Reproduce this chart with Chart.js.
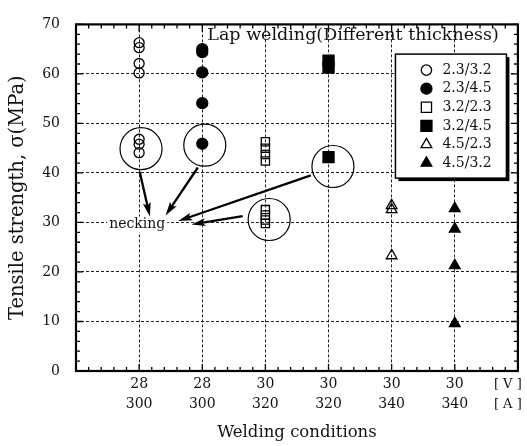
<!DOCTYPE html>
<html><head><meta charset="utf-8">
<script src="https://cdn.jsdelivr.net/npm/chart.js@4.4.0/dist/chart.umd.min.js"></script>
<style>html,body{margin:0;padding:0;background:#fff}#wrap{width:527px;height:446px}</style>
</head><body><div id="wrap"><canvas id="c" width="527" height="446"></canvas></div>
<script>
// ---- data ----
const voltages = ['28','28','30','30','30','30'];
const currents = ['300','300','320','320','340','340'];
const unitLabels = ['[ V ]','[ A ]'];
const seriesNames = ['2.3/3.2','2.3/4.5','3.2/2.3','3.2/4.5','4.5/2.3','4.5/3.2'];
const conditionOf = [1,2,3,4,5,6];
const s1 = [66.3, 65.3, 62.1, 60.2, 46.8, 45.8, 44.1];
const s2 = [65.0, 64.4, 60.3, 54.1, 45.9];
const s3 = [46.3, 45.0, 43.7, 42.4, 32.6, 31.5, 30.5, 29.8];
const s4 = [62.7, 61.3, 43.2];
const s5 = [33.4, 32.6, 23.3];
const s6 = [32.8, 28.7, 21.3, 9.6];
const allSeries = [s1,s2,s3,s4,s5,s6];
const titleText = 'Lap welding(Different thickness)';
const neckingText = 'necking';
// annotation geometry in data units
const neckCircles = [[1.03,44.9],[2.04,45.6],[3.06,30.6],[4.07,41.3]];
const arrows = [[1.01,40.2,1.17,31.2],[1.93,41.1,1.42,31.4],[3.72,39.5,1.62,30.3],[2.64,31.3,1.83,29.6]];

const F = 'DejaVu Serif';
const styles = [
  {pointStyle:'circle', radius:5, fill:false},
  {pointStyle:'circle', radius:5.5, fill:true},
  {pointStyle:'rect', radius:5.8, fill:false},
  {pointStyle:'rect', radius:7.8, fill:true},
  {pointStyle:'triangle', radius:6.2, fill:false},
  {pointStyle:'triangle', radius:6.2, fill:true}
];

const datasets = allSeries.map((arr,i)=>({
  label: seriesNames[i],
  data: arr.map(v=>({x:conditionOf[i], y:v})),
  pointStyle: styles[i].pointStyle,
  pointRadius: styles[i].radius,
  pointBorderWidth: 1.3,
  borderColor:'#000',
  pointBorderColor:'#000',
  pointBackgroundColor: styles[i].fill ? '#000' : 'rgba(0,0,0,0)',
  backgroundColor: styles[i].fill ? '#000' : 'rgba(0,0,0,0)',
  showLine:false
}));

function drawMarker(ctx, style, r, x, y, fill){
  ctx.beginPath();
  if (style==='circle'){ ctx.arc(x,y,r,0,Math.PI*2); }
  else if (style==='rect'){ const s=r*Math.SQRT1_2; ctx.rect(x-s,y-s,2*s,2*s); }
  else { ctx.moveTo(x, y-r); ctx.lineTo(x+r*Math.sin(2*Math.PI/3), y - r*Math.cos(2*Math.PI/3)); ctx.lineTo(x+r*Math.sin(4*Math.PI/3), y - r*Math.cos(4*Math.PI/3)); ctx.closePath(); }
  if (fill){ ctx.fillStyle='#000'; ctx.fill(); }
  ctx.lineWidth=1.3; ctx.strokeStyle='#000'; ctx.stroke();
}

const framePlugin = {
  id:'frame',
  beforeDatasetsDraw(chart){
    const {ctx, chartArea:a, scales:{x,y}} = chart;
    ctx.save();
    ctx.strokeStyle='#000'; ctx.lineWidth=1.3;
    ctx.beginPath();
    for (let k=0;k<=35;k++){
      const px = x.getPixelForValue(k/5);
      const L = k%5===0 ? 7 : 4;
      ctx.moveTo(px,a.bottom); ctx.lineTo(px,a.bottom-L);
      ctx.moveTo(px,a.top); ctx.lineTo(px,a.top+L);
    }
    for (let k=0;k<=35;k++){
      const py = y.getPixelForValue(k*2);
      const L = k%5===0 ? 7 : 4;
      ctx.moveTo(a.left,py); ctx.lineTo(a.left+L,py);
      ctx.moveTo(a.right,py); ctx.lineTo(a.right-L,py);
    }
    ctx.stroke();
    ctx.lineWidth=2.2;
    ctx.strokeRect(a.left,a.top,a.right-a.left,a.bottom-a.top);
    ctx.restore();
  },
  afterDatasetsDraw(chart){
    const {ctx, chartArea:a, scales:{x,y}} = chart;
    ctx.save();
    // circles
    ctx.strokeStyle='#000'; ctx.lineWidth=1.2;
    neckCircles.forEach(([cx,cy])=>{
      ctx.beginPath(); ctx.arc(x.getPixelForValue(cx), y.getPixelForValue(cy), 21, 0, Math.PI*2); ctx.stroke();
    });
    // necking text
    ctx.font = '14px "'+F+'"';
    ctx.textAlign='center'; ctx.textBaseline='middle';
    const nx = x.getPixelForValue(0.97), ny = y.getPixelForValue(29.6);
    const w = ctx.measureText(neckingText).width;
    ctx.fillStyle='#fff'; ctx.fillRect(nx-w/2-2, ny-8, w+4, 16);
    ctx.fillStyle='#111'; ctx.fillText(neckingText, nx, ny);
    // arrows
    arrows.forEach(([x1,y1,x2,y2])=>{
      const p1=[x.getPixelForValue(x1), y.getPixelForValue(y1)];
      const p2=[x.getPixelForValue(x2), y.getPixelForValue(y2)];
      const ang=Math.atan2(p2[1]-p1[1], p2[0]-p1[0]);
      const hl=14, hw=4;
      const bx=p2[0]-hl*Math.cos(ang), by=p2[1]-hl*Math.sin(ang);
      ctx.lineWidth=2.3; ctx.strokeStyle='#000';
      ctx.beginPath(); ctx.moveTo(p1[0],p1[1]); ctx.lineTo(bx+4*Math.cos(ang),by+4*Math.sin(ang)); ctx.stroke();
      ctx.beginPath(); ctx.moveTo(p2[0],p2[1]);
      ctx.lineTo(bx - hw*Math.sin(ang), by + hw*Math.cos(ang));
      ctx.lineTo(bx + 3*Math.cos(ang), by + 3*Math.sin(ang));
      ctx.lineTo(bx + hw*Math.sin(ang), by - hw*Math.cos(ang));
      ctx.closePath(); ctx.fillStyle='#000'; ctx.fill();
    });
    // title inside plot
    ctx.font = '17.5px "'+F+'"';
    ctx.textAlign='left'; ctx.textBaseline='middle'; ctx.fillStyle='#111';
    ctx.fillText(titleText, x.getPixelForValue(2.08), y.getPixelForValue(67.8));
    // legend box
    const lx = x.getPixelForValue(5.06), ly = y.getPixelForValue(64.0);
    const lw = 111, lh = 124;
    ctx.fillStyle='#000'; ctx.fillRect(lx+3, ly+3, lw, lh);
    ctx.fillStyle='#fff'; ctx.fillRect(lx, ly, lw, lh);
    ctx.lineWidth=1.5; ctx.strokeStyle='#000'; ctx.strokeRect(lx, ly, lw, lh);
    const legR = [5.2,5.5,7.2,7.8,6.2,6.2];
    ctx.font='14px "'+F+'"'; ctx.textBaseline='middle'; ctx.textAlign='left';
    seriesNames.forEach((name,i)=>{
      const ry = ly + 16 + i*18.6;
      drawMarker(ctx, styles[i].pointStyle, legR[i], lx+31, ry, styles[i].fill);
      ctx.fillStyle='#111'; ctx.fillText(name, lx+47, ry);
    });
    ctx.restore();
  },
  afterDraw(chart){
    const {ctx, chartArea:a, scales:{x}} = chart;
    ctx.save();
    ctx.font='13px "'+F+'"'; ctx.textAlign='center'; ctx.textBaseline='middle'; ctx.fillStyle='#111';
    const ux = x.getPixelForValue(6.84);
    ctx.fillText(unitLabels[0], ux, a.bottom+14);
    ctx.fillText(unitLabels[1], ux, a.bottom+34);
    ctx.restore();
  }
};

new Chart(document.getElementById('c'), {
  type:'scatter',
  data:{datasets},
  plugins:[framePlugin],
  options:{
    responsive:false, animation:false, devicePixelRatio:1,
    layout:{padding:{left:0,right:7,top:15,bottom:0}},
    plugins:{legend:{display:false}, tooltip:{enabled:false}},
    scales:{
      x:{
        type:'linear', min:0, max:7,
        afterBuildTicks: s=>{ s.ticks=[0,1,2,3,4,5,6,7].map(v=>({value:v})); },
        ticks:{autoSkip:false, maxRotation:0, minRotation:0, padding:4, color:'#111',
          font:{family:F,size:14,lineHeight:1.4},
          callback:(v)=> (v>=1 && v<=6) ? [voltages[v-1], currents[v-1]] : ''},
        grid:{color:'#222', lineWidth:1, drawTicks:false},
        border:{display:false, dash:[3,2]},
        title:{display:true, text:'Welding conditions', color:'#111', font:{family:F,size:16.5}, padding:{top:0,bottom:3}},
        afterFit: s=>{ s.height=75; }
      },
      y:{
        min:0, max:70,
        ticks:{stepSize:10, padding:16, color:'#111', font:{family:F,size:14}},
        grid:{color:'#222', lineWidth:1, drawTicks:false},
        border:{display:false, dash:[3,2]},
        title:{display:true, text:'Tensile strength, σ(MPa)', color:'#111', font:{family:F,size:19.5}, padding:{top:6,bottom:0}},
        afterFit: s=>{ s.width=76; }
      }
    }
  }
});
</script></body></html>
